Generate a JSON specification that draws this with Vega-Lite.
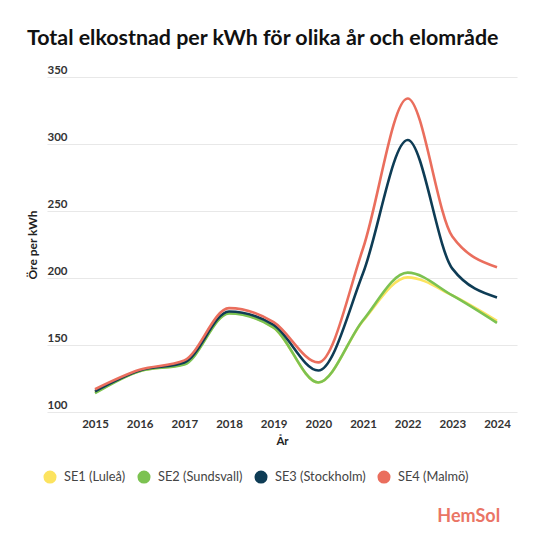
{
  "$schema": "https://vega.github.io/schema/vega-lite/v6.json",
  "autosize": "none",
  "width": 470,
  "height": 335,
  "padding": {"left": 47, "top": 77, "right": 33, "bottom": 138},
  "background": "white",
  "title": {
    "text": "Total elkostnad per kWh för olika år och elområde",
    "anchor": "start",
    "frame": "group",
    "dx": -20,
    "offset": 15,
    "font": "Lato",
    "fontSize": 21.4,
    "fontWeight": "bold",
    "color": "#111111"
  },
  "data": {
    "values": [
      {"year": 2015, "region": "SE1 (Luleå)", "value": 114.5},
      {"year": 2016, "region": "SE1 (Luleå)", "value": 130.5},
      {"year": 2017, "region": "SE1 (Luleå)", "value": 136},
      {"year": 2018, "region": "SE1 (Luleå)", "value": 174},
      {"year": 2019, "region": "SE1 (Luleå)", "value": 163},
      {"year": 2020, "region": "SE1 (Luleå)", "value": 122},
      {"year": 2021, "region": "SE1 (Luleå)", "value": 168},
      {"year": 2022, "region": "SE1 (Luleå)", "value": 200.5},
      {"year": 2023, "region": "SE1 (Luleå)", "value": 187},
      {"year": 2024, "region": "SE1 (Luleå)", "value": 168},
      {"year": 2015, "region": "SE2 (Sundsvall)", "value": 114},
      {"year": 2016, "region": "SE2 (Sundsvall)", "value": 130.5},
      {"year": 2017, "region": "SE2 (Sundsvall)", "value": 135.5},
      {"year": 2018, "region": "SE2 (Sundsvall)", "value": 173.5},
      {"year": 2019, "region": "SE2 (Sundsvall)", "value": 163},
      {"year": 2020, "region": "SE2 (Sundsvall)", "value": 122},
      {"year": 2021, "region": "SE2 (Sundsvall)", "value": 168.5},
      {"year": 2022, "region": "SE2 (Sundsvall)", "value": 204},
      {"year": 2023, "region": "SE2 (Sundsvall)", "value": 187},
      {"year": 2024, "region": "SE2 (Sundsvall)", "value": 166.5},
      {"year": 2015, "region": "SE3 (Stockholm)", "value": 115.5},
      {"year": 2016, "region": "SE3 (Stockholm)", "value": 131},
      {"year": 2017, "region": "SE3 (Stockholm)", "value": 137},
      {"year": 2018, "region": "SE3 (Stockholm)", "value": 175},
      {"year": 2019, "region": "SE3 (Stockholm)", "value": 165},
      {"year": 2020, "region": "SE3 (Stockholm)", "value": 131},
      {"year": 2021, "region": "SE3 (Stockholm)", "value": 203.5},
      {"year": 2022, "region": "SE3 (Stockholm)", "value": 303},
      {"year": 2023, "region": "SE3 (Stockholm)", "value": 207},
      {"year": 2024, "region": "SE3 (Stockholm)", "value": 185.5},
      {"year": 2015, "region": "SE4 (Malmö)", "value": 117},
      {"year": 2016, "region": "SE4 (Malmö)", "value": 131.5},
      {"year": 2017, "region": "SE4 (Malmö)", "value": 138.5},
      {"year": 2018, "region": "SE4 (Malmö)", "value": 177.5},
      {"year": 2019, "region": "SE4 (Malmö)", "value": 167},
      {"year": 2020, "region": "SE4 (Malmö)", "value": 137},
      {"year": 2021, "region": "SE4 (Malmö)", "value": 222},
      {"year": 2022, "region": "SE4 (Malmö)", "value": 334},
      {"year": 2023, "region": "SE4 (Malmö)", "value": 231},
      {"year": 2024, "region": "SE4 (Malmö)", "value": 208}
    ]
  },
  "layer": [
    {
      "mark": {"type": "line", "interpolate": "monotone", "strokeWidth": 2.6},
      "encoding": {
        "x": {
          "field": "year",
          "type": "quantitative",
          "scale": {"domain": [2013.925, 2024.448], "nice": false, "zero": false},
          "axis": {
            "values": [2015, 2016, 2017, 2018, 2019, 2020, 2021, 2022, 2023, 2024],
            "format": "d",
            "grid": false,
            "domain": false,
            "ticks": false,
            "labelPadding": 6,
            "title": "År",
            "titlePadding": 6
          }
        },
        "y": {
          "field": "value",
          "type": "quantitative",
          "scale": {"domain": [100, 350], "nice": false, "zero": false},
          "axis": {
            "values": [100, 150, 200, 250, 300, 350],
            "domain": false,
            "ticks": false,
            "labelAlign": "left",
            "labelBaseline": "bottom",
            "labelPadding": 0,
            "labelOffset": -2,
            "title": "Öre per kWh",
            "titleFontSize": 12,
            "titleX": -8
          }
        },
        "color": {
          "field": "region",
          "type": "nominal",
          "scale": {
            "domain": ["SE1 (Luleå)", "SE2 (Sundsvall)", "SE3 (Stockholm)", "SE4 (Malmö)"],
            "range": ["#FCE35F", "#7CC251", "#0E3C55", "#EA6E5D"]
          },
          "legend": {
            "title": null,
            "orient": "none",
            "legendX": -4,
            "legendY": 393,
            "direction": "horizontal",
            "symbolType": "circle",
            "symbolSize": 170,
            "labelFontSize": 12.8,
            "labelOffset": 7,
            "columnPadding": 11,
            "encode": {
              "symbols": {
                "update": {
                  "fill": {"scale": "color", "field": "value"},
                  "fillOpacity": {"value": 1},
                  "strokeWidth": {"value": 0}
                }
              }
            }
          }
        }
      }
    },
    {
      "data": {"values": [{"logo": "HemSol"}]},
      "mark": {
        "type": "text",
        "align": "right",
        "baseline": "middle",
        "font": "Lato",
        "fontSize": 18,
        "fontWeight": "bold",
        "color": "#EA7565",
        "clip": false
      },
      "encoding": {
        "x": {"datum": 2024.07},
        "y": {"datum": 21.6},
        "text": {"field": "logo"}
      }
    }
  ],
  "config": {
    "font": "Lato",
    "view": {"stroke": null},
    "axis": {
      "labelFont": "Lato",
      "labelFontSize": 11.5,
      "labelFontWeight": "bold",
      "labelColor": "#333333",
      "titleFont": "Lato",
      "titleFontSize": 11.5,
      "titleFontWeight": "bold",
      "titleColor": "#222222",
      "gridColor": "#e8e8e8",
      "gridWidth": 1.2
    },
    "legend": {
      "labelFont": "Lato",
      "labelColor": "#444444"
    }
  }
}
